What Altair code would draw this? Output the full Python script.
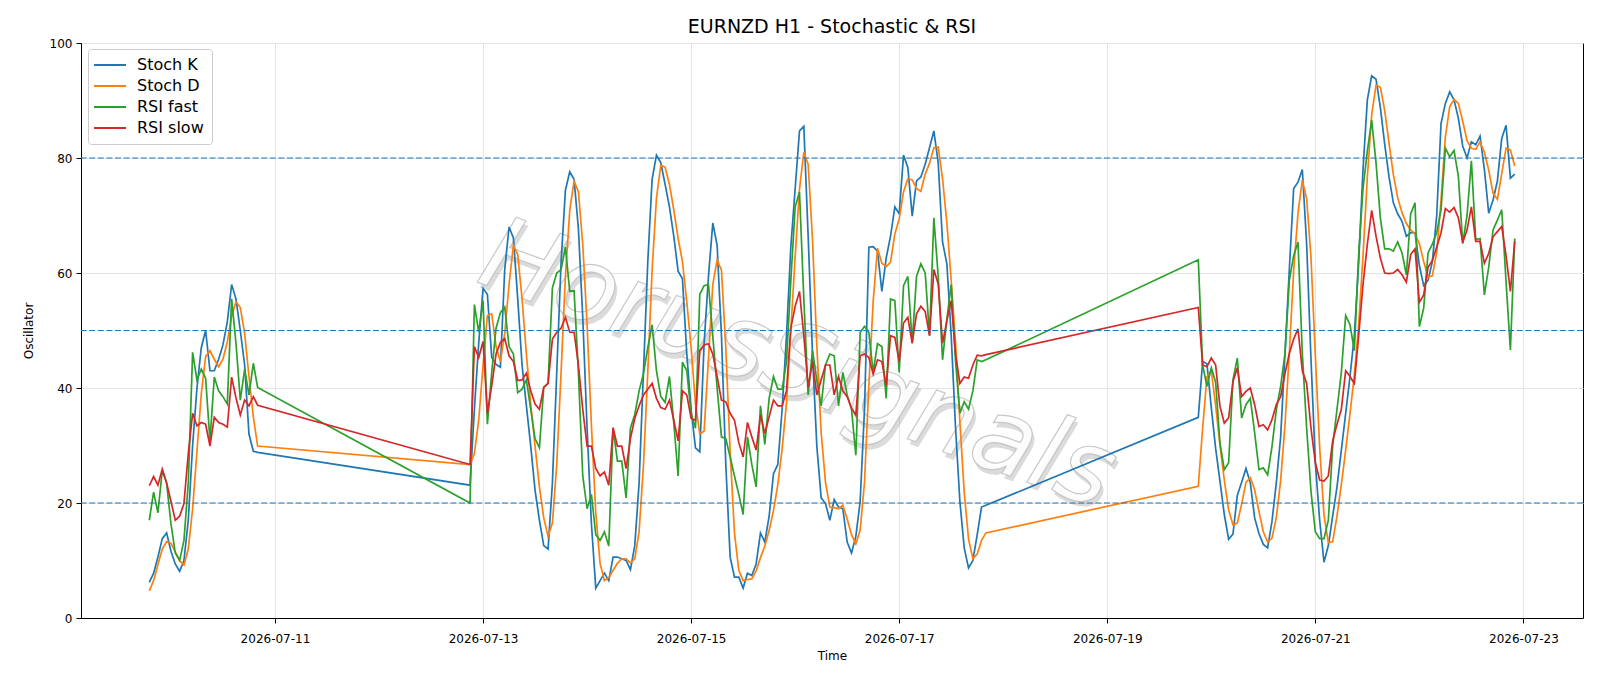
import altair as alt
import pandas as pd

# ---------------- data ----------------
seg_starts = ["2026-07-09 19:00", "2026-07-12 21:00", "2026-07-19 21:00"]
seg_lengths = [26, 120, 74]

k_seg1 = [6.2, 7.8, 10.6, 13.8, 14.8, 11.6, 9.4, 8.1, 10.0, 17.0,
          30.0, 40.0, 47.0, 50.0, 43.0, 43.0, 45.0, 47.5, 51.5, 58.0,
          55.5, 50.0, 44.0, 32.0, 29.0, 28.8]
k_seg2 = [23.1, 36.3, 47.8, 57.3, 56.3, 45.3, 44.1, 43.6, 60.6, 68.0,
          66.1, 55.5, 44.0, 36.9, 29.9, 22.2, 17.0, 12.6, 12.0, 23.5,
          42.7, 61.9, 74.4, 77.6, 76.3, 67.7, 52.3, 33.0, 16.4, 5.2,
          6.5, 7.8, 6.5, 10.6, 10.6, 10.3, 10.0, 8.4, 12.6, 23.5,
          42.7, 61.9, 76.3, 80.5, 79.2, 75.4, 71.5, 66.4, 60.3, 59.0,
          45.9, 36.3, 29.6, 28.9, 47.8, 59.4, 68.7, 64.8, 49.1, 26.7,
          10.6, 7.1, 7.1, 5.2, 7.8, 7.4, 9.4, 14.8, 13.2, 17.7,
          25.1, 26.7, 36.3, 49.1, 64.5, 74.7, 84.7, 85.5, 66.4, 45.9,
          29.9, 20.9, 19.9, 17.0, 20.6, 19.3, 19.0, 13.2, 11.3, 14.2,
          20.3, 36.3, 64.5, 64.6, 63.8, 56.8, 62.6, 66.4, 71.5, 70.3,
          80.5, 78.3, 69.9, 76.0, 76.7, 78.9, 81.8, 84.7, 79.2, 65.4,
          61.6, 49.1, 33.1, 20.3, 12.2, 8.7, 10.0, 14.5, 19.3, 19.6]
k_seg3 = [34.9, 44.6, 44.2, 36.6, 29.5, 23.8, 18.0, 13.7, 14.6, 21.3,
          23.6, 26.0, 23.5, 17.4, 14.7, 12.8, 12.2, 16.8, 23.5, 31.5,
          45.9, 60.6, 74.7, 75.8, 78.0, 65.0, 45.0, 27.0, 17.0, 9.7,
          12.6, 17.7, 22.8, 29.2, 35.6, 42.0, 49.1, 61.9, 78.0, 90.1,
          94.3, 93.7, 88.8, 82.4, 76.7, 72.2, 70.3, 69.0, 66.4, 67.0,
          67.0, 61.3, 57.8, 58.7, 62.0, 70.0, 86.0, 89.5, 91.5, 90.1,
          86.9, 82.1, 80.0, 82.8, 82.3, 83.8, 78.0, 70.4, 72.7, 76.0,
          83.4, 85.7, 76.5, 77.2]

d_seg1 = [4.7, 6.5, 9.3, 12.0, 13.3, 13.0, 11.5, 10.0, 9.2, 12.0,
          19.0, 29.0, 39.0, 45.5, 46.5, 45.0, 43.7, 45.0, 48.0, 52.5,
          55.0, 54.0, 49.5, 42.0, 35.0, 29.9]
d_seg2 = [26.7, 28.6, 34.4, 44.0, 52.6, 52.9, 47.2, 44.6, 49.5, 58.0,
          64.8, 63.2, 55.5, 45.9, 37.2, 29.9, 22.8, 17.4, 14.2, 16.5,
          26.7, 42.7, 59.4, 70.9, 76.0, 74.1, 65.0, 51.0, 33.5, 18.3,
          9.5, 6.5, 7.0, 8.3, 9.5, 10.3, 10.3, 9.6, 10.3, 15.0,
          26.5, 42.7, 60.5, 73.0, 78.7, 78.4, 75.4, 71.0, 66.0, 62.0,
          55.0, 47.0, 37.3, 32.0, 32.5, 45.0, 58.0, 62.3, 60.5, 47.0,
          29.0, 14.8, 8.3, 6.5, 6.7, 6.8, 8.2, 10.5, 12.5, 15.2,
          18.7, 23.2, 29.4, 37.4, 50.0, 62.8, 74.6, 81.0, 78.9, 65.9,
          47.4, 32.2, 23.6, 19.3, 19.2, 19.0, 19.6, 17.2, 14.5, 12.9,
          15.3, 23.6, 40.4, 55.1, 64.3, 61.7, 61.1, 61.9, 66.8, 69.4,
          74.1, 76.4, 76.2, 74.7, 74.2, 77.2, 79.1, 81.8, 81.9, 76.4,
          68.7, 58.7, 47.9, 34.2, 21.9, 13.7, 10.3, 11.1, 13.5, 14.8]
d_seg3 = [22.9, 33.0, 42.0, 43.0, 37.0, 30.0, 24.0, 18.8, 16.2, 16.5,
          19.8, 23.6, 24.4, 22.3, 18.5, 15.0, 13.2, 13.9, 17.5, 23.9,
          33.6, 46.0, 60.4, 70.4, 76.2, 72.9, 62.7, 45.7, 29.7, 17.9,
          13.1, 13.3, 17.7, 23.2, 29.2, 35.6, 42.2, 51.0, 63.0, 76.7,
          87.5, 92.7, 92.3, 88.3, 82.6, 77.1, 73.1, 70.5, 68.6, 67.5,
          66.8, 65.1, 62.0, 59.3, 59.5, 63.6, 72.7, 83.7, 88.9, 90.2,
          89.5, 86.4, 83.0, 81.7, 81.5, 82.8, 81.0, 77.9, 73.9, 72.8,
          77.3, 81.7, 81.4, 78.6]

fast_seg1 = [17.0, 21.9, 18.3, 25.7, 23.5, 16.4, 11.3, 10.0, 13.5, 23.5,
             46.2, 41.4, 43.3, 41.7, 30.8, 41.9, 39.5, 38.5, 37.2, 55.5,
             47.8, 37.9, 43.3, 38.8, 44.3, 40.1]
fast_seg2 = [20.0, 54.5, 49.7, 55.2, 33.7, 42.7, 50.4, 53.1, 54.1, 47.2,
             45.9, 39.2, 39.8, 41.4, 36.3, 31.2, 29.6, 40.1, 40.8, 57.4,
             60.0, 60.6, 64.5, 56.8, 56.9, 42.7, 24.7, 19.0, 21.5, 14.5,
             13.5, 15.0, 12.5, 33.0, 27.3, 27.3, 20.9, 33.0, 35.4, 39.5,
             42.5, 47.0, 51.0, 43.0, 38.5, 37.5, 42.0, 34.0, 24.7, 44.5,
             43.0, 35.5, 33.0, 56.3, 57.8, 58.0, 49.0, 40.0, 31.5, 31.2,
             28.0, 24.7, 21.5, 18.0, 31.5, 26.7, 22.8, 36.9, 30.2, 38.2,
             42.0, 39.8, 39.8, 44.6, 58.7, 71.5, 74.1, 55.5, 38.8, 46.5,
             41.4, 36.9, 44.0, 45.9, 45.6, 36.9, 42.7, 38.8, 36.3, 28.3,
             49.7, 50.7, 49.7, 42.7, 47.7, 47.2, 38.2, 55.5, 55.2, 42.7,
             57.8, 59.4, 47.8, 59.4, 61.6, 60.0, 49.1, 69.6, 59.4, 44.9,
             52.0, 58.0, 44.6, 35.6, 37.6, 36.3, 39.5, 44.9, 44.6, 44.9]
fast_seg3 = [62.3, 44.0, 40.3, 43.5, 41.0, 30.4, 25.8, 27.0, 41.4, 45.2,
             34.8, 37.1, 38.2, 32.2, 25.8, 26.1, 24.9, 29.8, 36.2, 40.3,
             46.0, 58.7, 63.0, 65.4, 46.0, 33.0, 22.0, 15.0, 13.8, 13.8,
             17.0, 29.9, 36.3, 42.7, 52.6, 51.0, 46.5, 63.2, 74.7, 81.2,
             86.6, 79.2, 69.6, 64.2, 64.2, 63.8, 65.4, 63.5, 59.7, 70.3,
             72.2, 50.7, 53.9, 63.5, 65.0, 67.0, 71.0, 81.7, 80.2, 81.3,
             76.8, 65.1, 70.0, 79.5, 65.8, 66.0, 56.2, 61.0, 67.5, 69.2,
             71.0, 58.5, 46.6, 66.0]

slow_seg1 = [23.0, 24.6, 23.1, 25.9, 23.5, 20.3, 17.0, 17.7, 19.9, 28.6,
             35.6, 33.4, 34.0, 33.7, 29.9, 34.9, 34.0, 33.7, 33.2, 41.9,
             38.3, 35.3, 37.9, 36.9, 38.5, 37.0]
slow_seg2 = [26.7, 47.2, 45.3, 48.1, 35.6, 40.4, 45.9, 47.9, 48.6, 45.6,
             44.6, 41.3, 41.4, 42.6, 39.5, 37.2, 36.3, 40.1, 40.8, 48.5,
             49.7, 50.4, 52.3, 49.7, 49.7, 44.0, 36.3, 29.9, 29.9, 26.0,
             24.7, 25.4, 23.1, 33.1, 29.9, 29.9, 26.0, 31.2, 34.7, 36.9,
             38.8, 39.8, 40.8, 38.2, 36.6, 36.3, 37.9, 34.4, 30.8, 39.5,
             38.8, 34.7, 34.4, 46.5, 47.5, 47.7, 45.9, 42.0, 37.9, 37.6,
             35.6, 34.4, 30.5, 28.0, 34.0, 31.5, 29.2, 35.3, 32.1, 35.0,
             37.9, 36.9, 36.9, 39.5, 50.4, 54.2, 56.8, 49.1, 40.1, 44.6,
             38.8, 41.4, 44.0, 44.0, 38.8, 42.0, 39.5, 38.5, 36.5, 35.3,
             45.6, 45.9, 45.3, 42.4, 44.9, 44.6, 40.4, 49.1, 48.8, 44.6,
             51.3, 52.3, 47.8, 52.9, 54.2, 53.3, 49.1, 60.6, 58.1, 47.8,
             51.7, 55.2, 45.9, 40.8, 41.9, 41.7, 44.0, 45.7, 45.6, 45.8]
slow_seg3 = [54.0, 44.0, 43.7, 45.2, 44.0, 36.8, 33.9, 34.8, 41.1, 43.5,
             38.5, 39.4, 40.0, 37.1, 33.3, 33.6, 32.7, 34.5, 37.1, 38.5,
             42.5, 46.0, 48.5, 50.3, 43.0, 40.8, 33.0, 27.0, 24.0, 23.8,
             24.7, 30.8, 33.7, 36.3, 43.0, 42.0, 40.8, 49.1, 58.0, 65.0,
             70.9, 66.4, 62.6, 60.0, 59.9, 60.0, 60.6, 59.7, 58.4, 63.2,
             64.2, 54.9, 56.2, 61.0, 62.2, 64.5, 67.0, 71.2, 70.6, 71.4,
             69.6, 65.3, 67.5, 71.5, 65.5, 65.5, 61.7, 63.4, 66.3, 67.2,
             68.1, 63.0, 56.8, 65.5]

series_names = ["Stoch K", "Stoch D", "RSI fast", "RSI slow"]
series_colors = ["#1f77b4", "#ff7f0e", "#2ca02c", "#d62728"]
ref_levels = [20, 50, 80]
x_tick_days = [11, 13, 15, 17, 19, 21, 23]
y_ticks = [0, 20, 40, 60, 80, 100]
title_text = "EURNZD H1 - Stochastic & RSI"
watermark_text = "HorusSignals"

# ---------------- table ----------------
times = []
for start, n in zip(seg_starts, seg_lengths):
    times += [t.strftime("%Y-%m-%dT%H:%M:%S") for t in pd.date_range(start, periods=n, freq="h")]

values = {
    "Stoch K": k_seg1 + k_seg2 + k_seg3,
    "Stoch D": d_seg1 + d_seg2 + d_seg3,
    "RSI fast": fast_seg1 + fast_seg2 + fast_seg3,
    "RSI slow": slow_seg1 + slow_seg2 + slow_seg3,
}
rows = []
for name in series_names:
    for t, v in zip(times, values[name]):
        rows.append({"time": t, "value": v, "series": name})
df = pd.DataFrame(rows)

FONT = "DejaVu Sans"
x_enc = alt.X(
    "time:T",
    title="Time",
    scale=alt.Scale(domain=[alt.DateTime(year=2026, month=7, date=9, hours=3, minutes=15),
                            alt.DateTime(year=2026, month=7, date=23, hours=13, minutes=45)]),
    axis=alt.Axis(values=[alt.DateTime(year=2026, month=7, date=d) for d in x_tick_days],
                  format="%Y-%m-%d", labelAngle=0, labelOverlap=False, labelFlush=False,
                  labelPadding=10, titlePadding=6),
)
y_enc = alt.Y(
    "value:Q",
    title="Oscillator",
    scale=alt.Scale(domain=[0, 100], nice=False),
    axis=alt.Axis(values=y_ticks, labelPadding=4, titlePadding=14),
)

lines = alt.Chart(df).mark_line(strokeWidth=1.7).encode(
    x=x_enc,
    y=y_enc,
    color=alt.Color(
        "series:N",
        scale=alt.Scale(domain=series_names, range=series_colors),
        legend=alt.Legend(
            title=None, orient="none", legendX=7, legendY=6,
            symbolType="M-2.667,0H2.667", symbolSize=144, symbolStrokeWidth=1.8,
            symbolOffset=6,
            labelFontSize=16, labelFont=FONT, labelColor="black", labelOffset=19,
            rowPadding=5, padding=8, strokeColor="#cccccc", fillColor="white",
            cornerRadius=3,
        ),
    ),
)

rules = alt.Chart(pd.DataFrame({"value": ref_levels})).mark_rule(
    color="#1f77b4", strokeDash=[6, 2.6], strokeWidth=1.2
).encode(y=alt.Y("value:Q", title="Oscillator", scale=alt.Scale(domain=[0, 100], nice=False)))

wm_df = pd.DataFrame({"text": [watermark_text]})
wm_shadow = alt.Chart(wm_df).mark_text(
    angle=20, fontSize=102, font=FONT, fontStyle="italic", fill="#9a9a9a", opacity=0.35,
    align="center", baseline="middle", dx=4, dy=4,
).encode(x=alt.value(717), y=alt.value(323), text="text:N")
wm_main = alt.Chart(wm_df).mark_text(
    angle=20, fontSize=102, font=FONT, fontStyle="italic", fill="#ffffff", opacity=0.9,
    stroke="#c4c4c4", strokeWidth=1.2, align="center", baseline="middle",
).encode(x=alt.value(717), y=alt.value(323), text="text:N")

chart = alt.layer(wm_shadow, wm_main, lines, rules).properties(
    width=1502,
    height=575,
    title=alt.Title(title_text, fontSize=19, fontWeight="normal", font=FONT, color="black", offset=0),
    autosize=alt.AutoSizeParams(type="none"),
    padding={"left": 81, "top": 43, "right": 17, "bottom": 68},
).configure_view(
    stroke="black", strokeWidth=1
).configure_axis(
    labelFont=FONT, titleFont=FONT, labelFontSize=12, titleFontSize=12,
    titleFontWeight="normal", labelColor="black", titleColor="black",
    tickColor="black", domainColor="black", gridColor="#e4e4e4", gridWidth=1,
    tickSize=5,
)

chart.save("out.html", embed_options={"renderer": "svg", "actions": False})
